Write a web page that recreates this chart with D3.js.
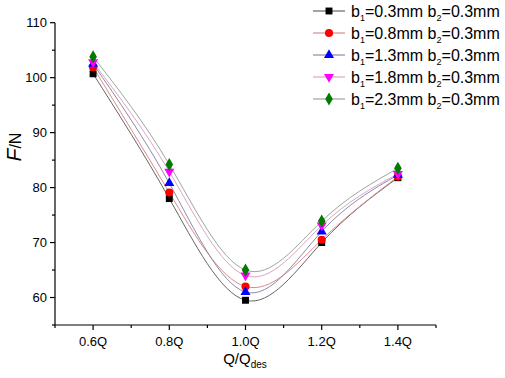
<!DOCTYPE html>
<html><head><meta charset="utf-8">
<script src="https://cdn.jsdelivr.net/npm/d3@7"></script>
<style>body{margin:0;background:#fff}svg{display:block;font-family:"Liberation Sans",Arial,sans-serif}</style>
</head><body><svg id="c" width="505" height="378"></svg>
<script>
const xValues = [0.6, 0.8, 1.0, 1.2, 1.4];
const xTickLabels = ["0.6Q", "0.8Q", "1.0Q", "1.2Q", "1.4Q"];
const seriesB1 = ["0.3", "0.8", "1.3", "1.8", "2.3"];
const s1 = [100.7, 78.0, 59.5, 70.0, 81.8];
const s2 = [101.9, 79.1, 62.0, 70.5, 82.0];
const s3 = [102.5, 80.8, 61.0, 72.0, 82.3];
const s4 = [102.8, 82.9, 64.0, 73.1, 82.5];
const s5 = [103.8, 84.2, 65.0, 73.9, 83.5];
const yTicks = [60, 70, 80, 90, 100, 110];

const series = [s1, s2, s3, s4, s5];
const markerFill = ["#000000", "#ff0000", "#0000ff", "#ff00ff", "#007a00"];
const lineCol = ["#666666", "#d98c8c", "#8c8ca6", "#d9a6c8", "#9aa89a"];
const symbols = [d3.symbolSquare, d3.symbolCircle, d3.symbolTriangle, d3.symbolTriangle, d3.symbolDiamond];
const symSize = [48, 52, 44, 44, 50];
const rot = [0, 0, 0, 180, 0];

const svg = d3.select("#c");
const x = d3.scaleLinear().domain([0.5, 1.5]).range([55, 436]);
const y = d3.scaleLinear().domain([55, 110]).range([325, 22.7]);

// axes
const xAxis = svg.append("g").attr("transform", "translate(0,325)");
xAxis.append("line").attr("x1", 55).attr("x2", 436).attr("stroke", "#000").attr("stroke-width", 1.2);
const xMinor = d3.range(0.5, 1.501, 0.1);
xAxis.selectAll("line.mn").data(xMinor).enter().append("line")
  .attr("x1", d => x(d)).attr("x2", d => x(d)).attr("y1", 0)
  .attr("y2", (d) => xValues.some(v => Math.abs(v - d) < 1e-6) ? 5 : 3)
  .attr("stroke", "#000").attr("stroke-width", 1.2);
xAxis.selectAll("text").data(xValues).enter().append("text")
  .attr("x", d => x(d)).attr("y", 21).attr("text-anchor", "middle")
  .attr("font-size", 13).text((d, i) => xTickLabels[i]);

const yAxis = svg.append("g").attr("transform", "translate(55,0)");
yAxis.append("line").attr("y1", 22.7).attr("y2", 325).attr("stroke", "#000").attr("stroke-width", 1.2);
const yMinor = d3.range(55, 110.1, 5);
yAxis.selectAll("line.mn").data(yMinor).enter().append("line")
  .attr("y1", d => y(d)).attr("y2", d => y(d)).attr("x1", 0)
  .attr("x2", d => d % 10 === 0 ? -5 : -3)
  .attr("stroke", "#000").attr("stroke-width", 1.2);
yAxis.selectAll("text").data(yTicks).enter().append("text")
  .attr("x", -8).attr("y", d => y(d) + 4.5).attr("text-anchor", "end")
  .attr("font-size", 13).text(d => d);

// axis titles
const yt = svg.append("text").attr("transform", "translate(21,147) rotate(-90)")
  .attr("text-anchor", "middle");
yt.append("tspan").attr("font-style", "italic").attr("font-size", 21).text("F");
yt.append("tspan").attr("font-size", 16).text("/N");

const xt = svg.append("text").attr("x", 245).attr("y", 364).attr("text-anchor", "middle").attr("font-size", 15);
xt.append("tspan").text("Q/Q");
xt.append("tspan").attr("font-size", 10).attr("dy", 4).text("des");

// lines
const line = d3.line().x((d, i) => x(xValues[i])).y(d => y(d)).curve(d3.curveNatural);
series.forEach((s, k) => {
  svg.append("path").datum(s).attr("d", line).attr("fill", "none")
    .attr("stroke", lineCol[k]).attr("stroke-width", 1);
});
// markers
series.forEach((s, k) => {
  const sym = d3.symbol().type(symbols[k]).size(symSize[k]);
  svg.selectAll(null).data(s).enter().append("path")
    .attr("d", sym)
    .attr("transform", (d, i) => `translate(${x(xValues[i])},${y(d)}) rotate(${rot[k]})`)
    .attr("fill", markerFill[k]);
});

// legend
const legY = [11, 33, 55, 77, 99];
series.forEach((s, k) => {
  const g = svg.append("g").attr("transform", `translate(0,${legY[k]})`);
  g.append("line").attr("x1", 313).attr("x2", 345).attr("stroke", lineCol[k]).attr("stroke-width", 1.2);
  g.append("path").attr("d", d3.symbol().type(symbols[k]).size(symSize[k]))
    .attr("transform", `translate(329,0) rotate(${rot[k]})`).attr("fill", markerFill[k]);
  const t = g.append("text").attr("x", 351).attr("y", 6).attr("font-size", 16);
  t.append("tspan").text("b");
  t.append("tspan").attr("font-size", 9).attr("dy", 4).text("1");
  t.append("tspan").attr("dy", -4).text("=" + seriesB1[k] + "mm b");
  t.append("tspan").attr("font-size", 9).attr("dy", 4).text("2");
  t.append("tspan").attr("dy", -4).text("=0.3mm");
});
</script></body></html>
